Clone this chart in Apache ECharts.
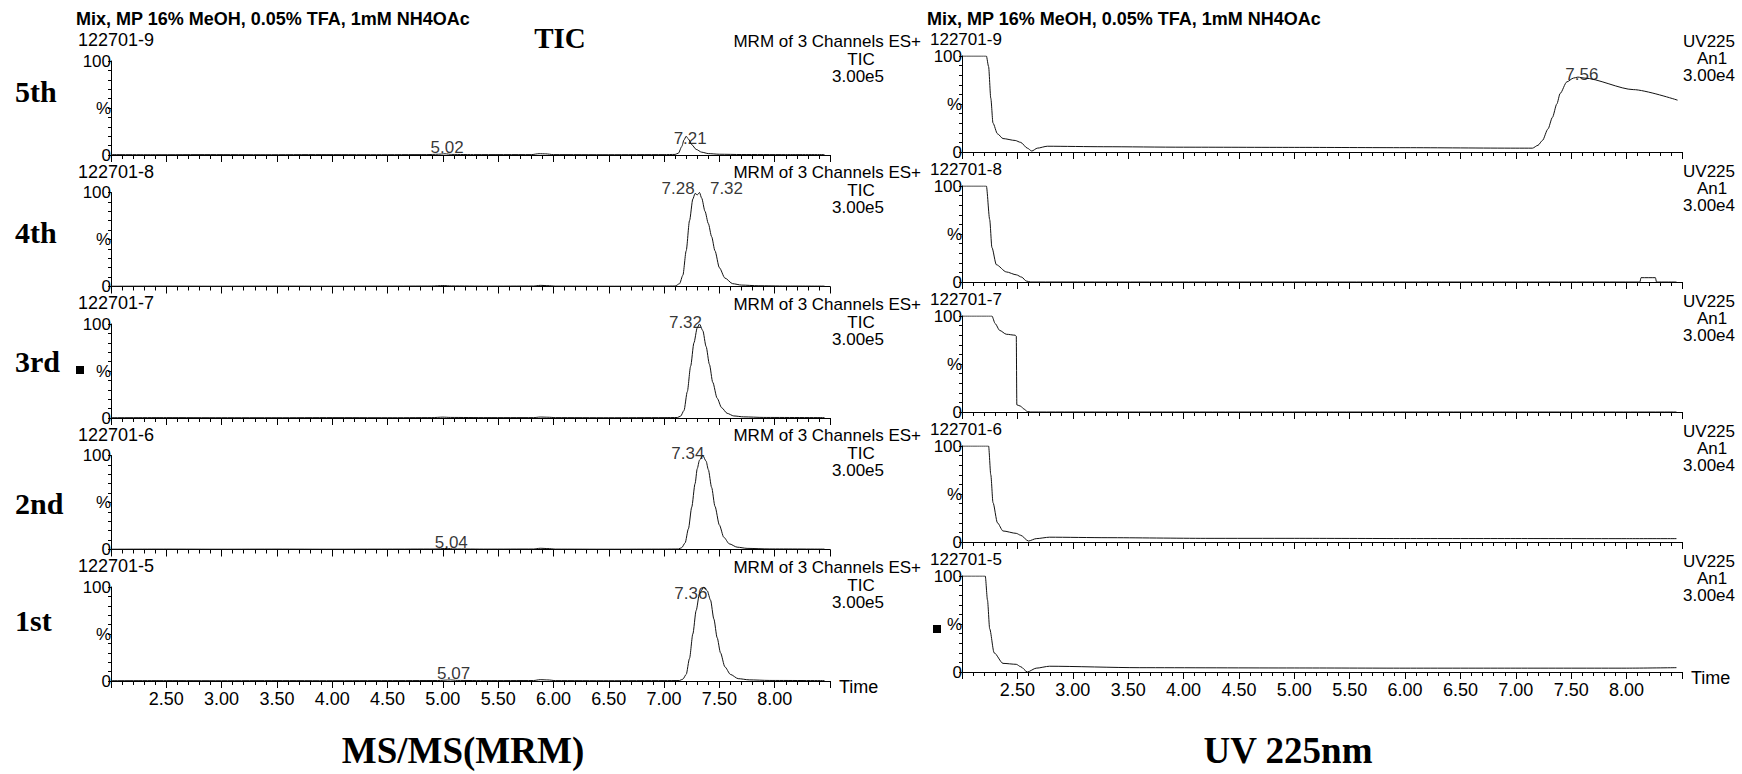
<!DOCTYPE html>
<html><head><meta charset="utf-8">
<script src="https://cdn.jsdelivr.net/npm/echarts/dist/echarts.min.js"></script>
<style>html,body{margin:0;padding:0;background:#fff}#c{width:1742px;height:774px}</style>
</head><body><div id="c"></div>
<script>
// ---------------- DATA ----------------
const headerText = 'Mix, MP 16% MeOH, 0.05% TFA, 1mM NH4OAc';
const sampleIds = ['122701-9', '122701-8', '122701-7', '122701-6', '122701-5'];
const runLabels = ['5th', '4th', '3rd', '2nd', '1st'];
const msInfo = ['MRM of 3 Channels ES+', 'TIC', '3.00e5'];
const uvInfo = ['UV225', 'An1', '3.00e4'];
const timeRange = [2.0, 8.5];
const xTickStep = 0.5;
const yLabels = {0: '0', 50: '%', 100: '100'};

// TIC (MS/MS MRM) traces: [time (min), % of 3.00e5]
const tic5 = [[2.00,0.4],[2.40,0.3],[2.90,0.4],[3.40,0.3],[3.90,0.4],[4.40,0.3],[4.85,0.4],[4.96,0.8],[5.02,1.3],[5.08,0.6],[5.30,0.4],[5.80,0.4],[5.87,1.4],[5.93,1.2],[6.00,0.4],[6.50,0.3],[7.00,0.4],[7.10,0.6],[7.13,2],[7.16,9],[7.18,16],[7.20,20],[7.22,17],[7.25,11],[7.29,6],[7.34,3],[7.40,1.5],[7.50,0.8],[7.70,0.5],[8.10,0.4],[8.45,0.4]];
const tic4 = [[2.00,0.3],[2.50,0.4],[3.00,0.3],[3.50,0.4],[4.00,0.3],[4.50,0.4],[4.90,0.5],[5.00,1.0],[5.08,0.6],[5.40,0.4],[5.82,0.5],[5.88,1.2],[5.95,0.9],[6.02,0.4],[6.50,0.3],[7.00,0.4],[7.10,0.5],[7.14,3],[7.17,12],[7.20,38],[7.23,70],[7.26,93],[7.28,99],[7.30,97.5],[7.32,100],[7.34,94],[7.37,80],[7.40,67],[7.43,53],[7.46,38],[7.50,20],[7.55,9],[7.62,3],[7.70,1.5],[7.85,0.8],[8.10,0.5],[8.45,0.4]];
const tic3 = [[2.00,0.3],[2.50,0.4],[3.00,0.3],[3.50,0.3],[4.00,0.4],[4.50,0.3],[4.90,0.4],[5.00,0.9],[5.07,0.6],[5.40,0.4],[5.82,0.4],[5.88,1.0],[5.95,0.8],[6.02,0.4],[6.50,0.3],[7.00,0.4],[7.12,0.5],[7.15,2],[7.18,8],[7.21,28],[7.24,55],[7.27,80],[7.30,96],[7.32,100],[7.35,93],[7.38,76],[7.41,57],[7.44,38],[7.48,21],[7.52,11],[7.57,5],[7.63,2.2],[7.72,1.2],[7.90,0.6],[8.45,0.4]];
const tic2 = [[2.00,0.3],[2.50,0.4],[3.00,0.3],[3.50,0.4],[4.00,0.3],[4.50,0.4],[4.92,0.5],[5.04,1.1],[5.10,0.6],[5.40,0.4],[5.82,0.5],[5.88,1.3],[5.95,1.0],[6.02,0.4],[6.50,0.3],[7.00,0.4],[7.13,0.5],[7.16,2],[7.19,7],[7.22,22],[7.25,45],[7.28,70],[7.30,86],[7.32,95],[7.35,100],[7.38,94],[7.40,85],[7.43,66],[7.46,46],[7.50,26],[7.54,13],[7.59,6],[7.66,2.5],[7.75,1.2],[7.95,0.6],[8.45,0.4]];
const tic1 = [[2.00,0.3],[2.50,0.4],[3.00,0.3],[3.50,0.4],[4.00,0.3],[4.50,0.4],[4.95,0.5],[5.07,1.1],[5.13,0.6],[5.40,0.4],[5.82,0.5],[5.88,1.4],[5.95,1.1],[6.02,0.4],[6.50,0.3],[7.00,0.4],[7.14,0.5],[7.17,2],[7.20,7],[7.23,24],[7.26,50],[7.29,75],[7.32,93],[7.36,100],[7.39,96],[7.42,86],[7.45,66],[7.48,46],[7.51,30],[7.55,15],[7.60,7],[7.67,2.5],[7.77,1.2],[7.95,0.6],[8.45,0.4]];

// UV 225 nm traces: [time (min), % of 3.00e4]
const uv5 = [[2.00,100],[2.22,100],[2.24,89],[2.26,56],[2.28,30],[2.32,19],[2.37,14],[2.48,12],[2.53,10],[2.59,4],[2.63,1],[2.68,4],[2.77,6],[3.28,5.5],[4.00,5],[5.00,4.8],[6.00,4.5],[7.00,4],[7.15,4],[7.20,7],[7.24,12],[7.29,24],[7.33,36],[7.37,50],[7.40,61],[7.46,73],[7.52,77],[7.56,78],[7.62,77],[8.06,65],[8.46,54]];
const uv4 = [[2.00,100],[2.22,100],[2.25,65],[2.27,36],[2.31,18],[2.40,10.5],[2.49,7.5],[2.54,5],[2.58,1],[2.62,0],[8.12,0],[8.13,4.5],[8.26,4.5],[8.27,0],[8.45,0]];
const uv3 = [[2.00,100],[2.27,100],[2.30,92],[2.34,85],[2.40,81],[2.48,80],[2.49,79],[2.495,7.5],[2.53,6],[2.56,3],[2.59,0.5],[2.62,0],[8.45,0]];
const uv2 = [[2.00,100],[2.24,100],[2.26,70],[2.28,41],[2.32,20],[2.37,11.5],[2.49,9],[2.53,7],[2.60,1],[2.67,3.5],[2.79,5],[3.31,4.5],[4.20,3.8],[5.00,3.8],[6.00,3.6],[7.00,3.6],[8.00,3.5],[8.45,3.5]];
const uv1 = [[2.00,100],[2.21,100],[2.23,75],[2.25,45],[2.29,20],[2.37,9],[2.49,8],[2.53,5.5],[2.59,0],[2.67,4],[2.79,6],[3.60,4.5],[5.00,4.2],[6.00,4],[7.00,4],[8.00,4],[8.45,4.5]];

// peak annotations: [time, %, text]
const ticPeaks = [
  [[5.02,1.3,'5.02'],[7.20,20,'7.21']],
  [[7.28,99,'7.28'],[7.32,100,'7.32']],
  [[7.32,100,'7.32']],
  [[5.04,1.1,'5.04'],[7.35,100,'7.34']],
  [[5.07,1.1,'5.07'],[7.36,100,'7.36']]
];
const uvPeaks = [[[7.56,78,'7.56']],[],[],[],[]];

const ticData = [tic5, tic4, tic3, tic2, tic1];
const uvData = [uv5, uv4, uv3, uv2, uv1];

// ---------------- LAYOUT / STYLE ----------------
const SANS = '"Liberation Sans", Arial, sans-serif';
const SERIF = '"Liberation Serif", "Times New Roman", serif';
const leftTops = [61, 192.5, 324, 455.5, 587];
const rightTops = [56, 186, 316, 446, 576];
const LH = 94, RH = 96;
const LX = 111, LW = 719, RX = 962, RW = 720;
const runLabelY = [91, 232, 361, 503, 620];
const ticLabelOffsets = [
  [[2,-6],[4,2]],
  [[-17,-5],[27,-4]],
  [[-14,-2]],
  [[4,-6],[-15,-2]],
  [[3,-6],[-13,6]]
];
const uvLabelOffsets = [[[4,-3]],[],[],[],[]];

const grids = [], xAxes = [], yAxes = [], series = [];
function addPanel(idx, left, top, width, height, bottomPanel, data, peaks, offsets) {
  grids.push({left: left, top: top, width: width, height: height});
  xAxes.push({
    type: 'value', gridIndex: idx, min: timeRange[0], max: timeRange[1], interval: xTickStep,
    axisLine: {show: true, onZero: false, lineStyle: {color: '#000', width: 1}},
    axisTick: {show: true, length: 7, lineStyle: {color: '#000', width: 1}},
    minorTick: {show: true, splitNumber: 5, length: 4, lineStyle: {color: '#000', width: 1}},
    splitLine: {show: false}, minorSplitLine: {show: false},
    axisLabel: {show: bottomPanel, margin: 9, color: '#000', fontSize: 18, fontFamily: SANS,
      formatter: v => (v < timeRange[0] + 0.3 || v > 8.2) ? '' : v.toFixed(2)},
    name: bottomPanel ? 'Time' : '', nameLocation: 'end', nameGap: 9,
    nameTextStyle: {color: '#000', fontSize: 18, fontFamily: SANS, verticalAlign: 'top', lineHeight: 12}
  });
  yAxes.push({
    type: 'value', gridIndex: idx, min: 0, max: 100, interval: 10,
    axisLine: {show: true, lineStyle: {color: '#000', width: 1}},
    axisTick: {show: true, length: 3, lineStyle: {color: '#000', width: 1}},
    splitLine: {show: false},
    axisLabel: {show: true, margin: 0, color: '#000', fontSize: 17, fontFamily: SANS,
      formatter: v => (yLabels[v] !== undefined ? yLabels[v] : '')}
  });
  series.push({
    type: 'line', xAxisIndex: idx, yAxisIndex: idx, data: data, symbol: 'none',
    smooth: 0.25, smoothMonotone: 'x', clip: true, animation: false, silent: true,
    lineStyle: {color: '#111', width: 1}
  });
  if (peaks.length) {
    series.push({
      type: 'scatter', xAxisIndex: idx, yAxisIndex: idx, symbol: 'rect', symbolSize: 1,
      itemStyle: {color: 'rgba(0,0,0,0)'}, animation: false, silent: true,
      data: peaks.map((p, k) => ({value: [p[0], p[1]], label: {show: true, formatter: p[2],
        position: 'inside', offset: offsets[k], color: '#000', fontSize: 17, fontFamily: SANS}}))
    });
  }
}
for (let i = 0; i < 5; i++) addPanel(i, LX, leftTops[i], LW, LH, i === 4, ticData[i], ticPeaks[i], ticLabelOffsets[i]);
for (let i = 0; i < 5; i++) addPanel(5 + i, RX, rightTops[i], RW, RH, i === 4, uvData[i], uvPeaks[i], uvLabelOffsets[i]);

function txt(text, x, y, font, align) {
  return {type: 'text', x: x, y: y, silent: true,
    style: {text: text, font: font, fill: '#000', align: align || 'left', verticalAlign: 'middle',
            textAlign: align || 'left', textVerticalAlign: 'middle'}};
}
const F18 = '18px ' + SANS;
const F17 = '17px ' + SANS;
const graphics = [];
graphics.push(txt(headerText, 76, 19, 'bold 18px ' + SANS));
graphics.push(txt(headerText, 927, 19, 'bold 18px ' + SANS));
graphics.push(txt('TIC', 560, 38, 'bold 29px ' + SERIF, 'center'));
for (let i = 0; i < 5; i++) {
  const T = leftTops[i];
  graphics.push(txt(sampleIds[i], 78, T - 21, F18));
  graphics.push(txt(msInfo[0], 921, T - 20, F17, 'right'));
  graphics.push(txt(msInfo[1], 861, T - 2, F17, 'center'));
  graphics.push(txt(msInfo[2], 858, T + 15, F17, 'center'));
  graphics.push(txt(runLabels[i], 15, runLabelY[i], 'bold 30px ' + SERIF));
  const R = rightTops[i];
  graphics.push(txt(sampleIds[i], 930, R - 17, F17));
  graphics.push(txt(uvInfo[0], 1709, R - 15, F17, 'center'));
  graphics.push(txt(uvInfo[1], 1712, R + 2, F17, 'center'));
  graphics.push(txt(uvInfo[2], 1709, R + 19, F17, 'center'));
}
graphics.push(txt('MS/MS(MRM)', 463, 750, 'bold 37px ' + SERIF, 'center'));
graphics.push(txt('UV 225nm', 1288, 750, 'bold 37px ' + SERIF, 'center'));
graphics.push({type: 'rect', shape: {x: 76, y: 366, width: 8, height: 8}, style: {fill: '#000'}, silent: true});
graphics.push({type: 'rect', shape: {x: 933, y: 625, width: 8, height: 8}, style: {fill: '#000'}, silent: true});

const chart = echarts.init(document.getElementById('c'), null, {renderer: 'svg', width: 1742, height: 774});
chart.setOption({
  backgroundColor: '#fff',
  animation: false,
  grid: grids, xAxis: xAxes, yAxis: yAxes, series: series,
  graphic: graphics
});
</script></body></html>
